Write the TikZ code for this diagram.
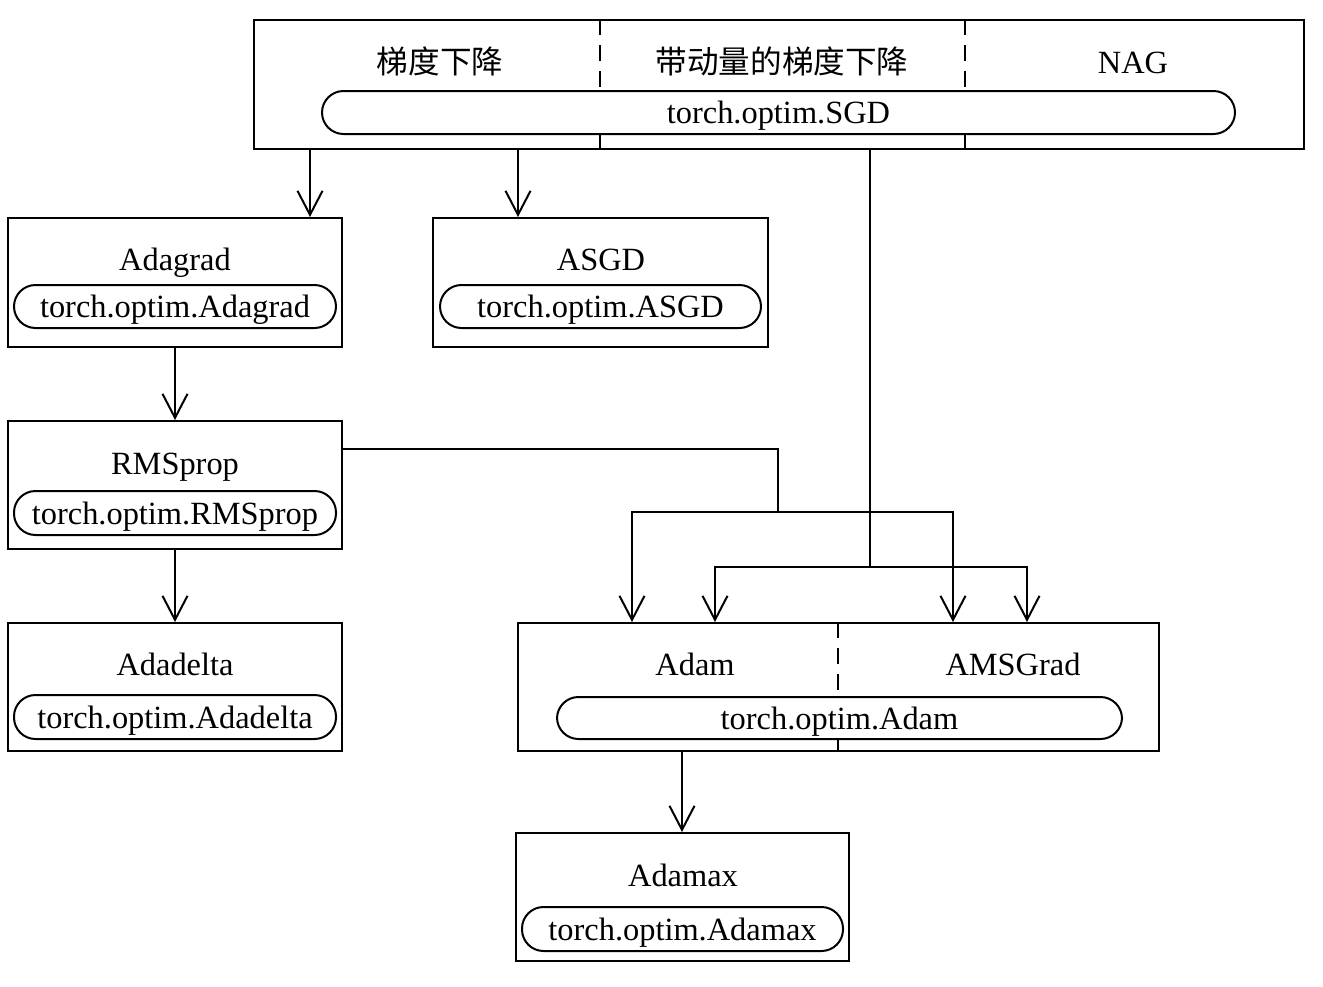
\documentclass[tikz,border=0pt]{standalone}
\usepackage{fontspec}
\setmainfont{Liberation Serif}
\newfontfamily\cjk{Noto Sans CJK SC}
\usetikzlibrary{arrows.meta}
\begin{document}
\begin{tikzpicture}[x=0.5pt,y=-0.5pt,
  box/.style={draw,line width=1pt,inner sep=0pt},
  pill/.style={draw,line width=1pt,fill=white,inner sep=0pt,rounded corners=10.75pt},
  lbl/.style={anchor=base,inner sep=0pt,font=\fontsize{16.2pt}{19pt}\selectfont},
  clbl/.style={anchor=base,inner sep=0pt,font=\cjk\fontsize{15.8pt}{19pt}\selectfont},
  conn/.style={line width=1pt},
  arr/.style={line width=1pt,-{Straight Barb[length=12pt,width=12.5pt,line width=1pt]}},
  divider/.style={line width=1pt,dash pattern=on 8pt off 5pt}]
\useasboundingbox (0,0) rectangle (1323,986);
% boxes
\node[box,minimum width=525pt,minimum height=64.5pt] (top) at (779,84.5) {};
\node[box,minimum width=167pt,minimum height=64.5pt] (adagrad) at (175,282.5) {};
\node[box,minimum width=167.5pt,minimum height=64.5pt] (asgd) at (600.5,282.5) {};
\node[box,minimum width=167pt,minimum height=64pt] (rms) at (175,485) {};
\node[box,minimum width=167pt,minimum height=64pt] (adadelta) at (175,687) {};
\node[box,minimum width=320.5pt,minimum height=64pt] (adam) at (838.5,687) {};
\node[box,minimum width=166.5pt,minimum height=64pt] (adamax) at (682.5,897) {};
% pills
\node[pill,minimum width=456.5pt,minimum height=21.5pt] (sgdp) at (778.5,112.5) {};
\node[pill,minimum width=161pt,minimum height=21.5pt] (adagradp) at (175,306.5) {};
\node[pill,minimum width=160.5pt,minimum height=21.5pt] (asgdp) at (600.5,306.5) {};
\node[pill,minimum width=161pt,minimum height=22pt] (rmsp) at (175,513) {};
\node[pill,minimum width=161pt,minimum height=22pt] (adadeltap) at (175,717) {};
\node[pill,minimum width=282.5pt,minimum height=21pt] (adamp) at (839.5,718) {};
\node[pill,minimum width=160.5pt,minimum height=22pt] (adamaxp) at (682.5,929) {};
% dividers (interrupted by the pills)
\draw[divider] (top.north -| 600,0) -- (sgdp.north -| 600,0);
\draw[divider] (sgdp.south -| 600,0) -- (top.south -| 600,0);
\draw[divider] (top.north -| 965,0) -- (sgdp.north -| 965,0);
\draw[divider] (sgdp.south -| 965,0) -- (top.south -| 965,0);
\draw[divider] (adam.north -| 838,0) -- (adamp.north -| 838,0);
\draw[divider] (adamp.south -| 838,0) -- (adam.south -| 838,0);
% titles
\node[clbl] (t1) at (440,73) {梯度下降};
\node[clbl] (t2) at (782,73) {带动量的梯度下降};
\node[lbl] (t3) at (1133,73) {NAG};
\node[lbl] (t4) at (175,270) {Adagrad};
\node[lbl] (t5) at (601,270) {ASGD};
\node[lbl] (t6) at (175,474) {RMSprop};
\node[lbl] (t7) at (175,675) {Adadelta};
\node[lbl] (t8) at (695,675) {Adam};
\node[lbl] (t9) at (1013,675) {AMSGrad};
\node[lbl] (t10) at (683,886) {Adamax};
% pill texts
\node[lbl] (p1) at (sgdp.center) [yshift=-5.5pt] {torch.optim.SGD};
\node[lbl] (p2) at (adagradp.center) [yshift=-5.5pt] {torch.optim.Adagrad};
\node[lbl] (p3) at (asgdp.center) [yshift=-5.5pt] {torch.optim.ASGD};
\node[lbl] (p4) at (rmsp.center) [yshift=-5.5pt] {torch.optim.RMSprop};
\node[lbl] (p5) at (adadeltap.center) [yshift=-5.5pt] {torch.optim.Adadelta};
\node[lbl] (p6) at (adamp.center) [yshift=-5.5pt] {torch.optim.Adam};
\node[lbl] (p7) at (adamaxp.center) [yshift=-5.5pt] {torch.optim.Adamax};
% connectors
\coordinate (j1) at (870,567);
\coordinate (j2) at (778,512);
\draw[arr] (top.south -| 310,0) -- (adagrad.north -| 310,0);
\draw[arr] (top.south -| 518,0) -- (asgd.north -| 518,0);
\draw[arr] (adagrad.south) -- (rms.north);
\draw[arr] (rms.south) -- (adadelta.north);
\draw[arr] (adam.south -| 682,0) -- (adamax.north -| 682,0);
\draw[conn] (top.south -| j1) -- (j1);
\draw[arr] (j1) -| (adam.north -| 715,0);
\draw[arr] (j1) -| (adam.north -| 1027,0);
\draw[conn] (rms.east |- 0,449) -| (j2);
\draw[arr] (j2) -| (adam.north -| 632,0);
\draw[arr] (j2) -| (adam.north -| 953,0);
\end{tikzpicture}
\end{document}
